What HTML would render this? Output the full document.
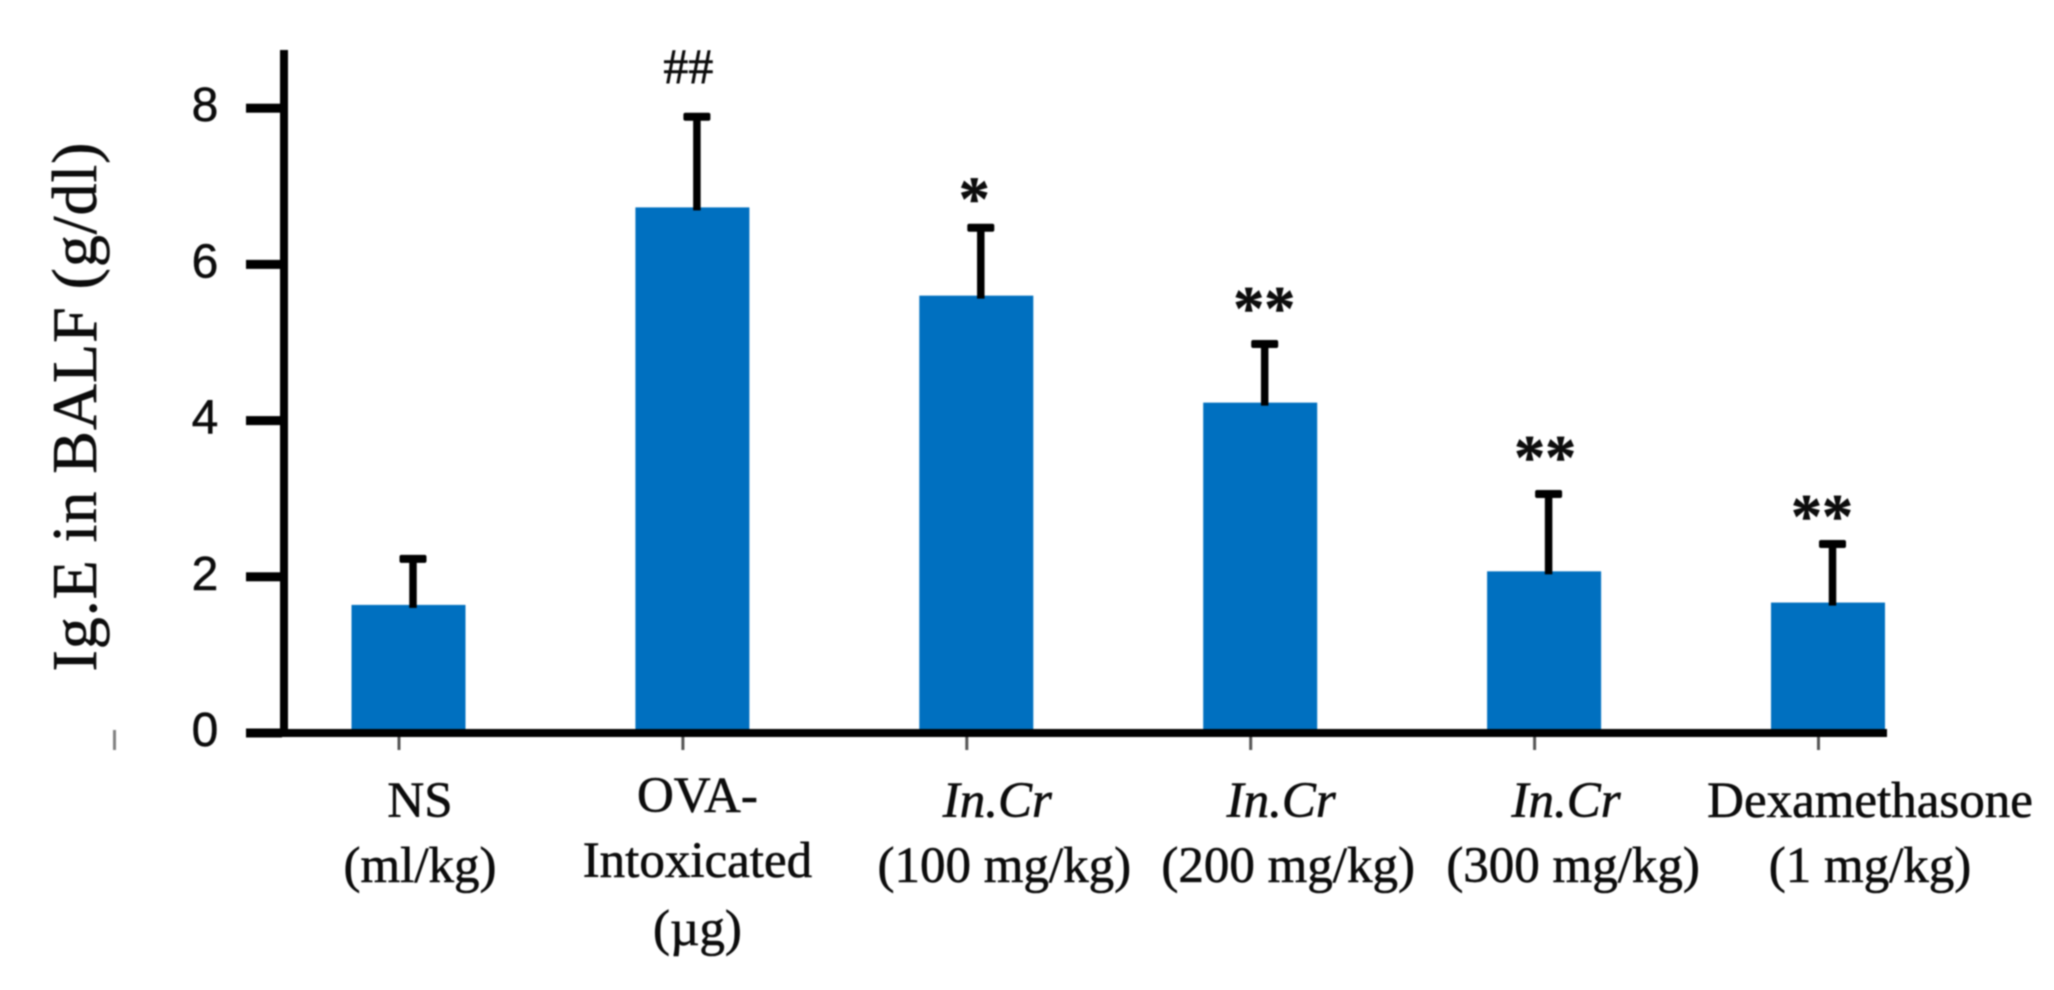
<!DOCTYPE html>
<html lang="en">
<head>
<meta charset="utf-8">
<title>IgE in BALF bar chart</title>
<style>
  html, body { margin: 0; padding: 0; background: #ffffff; width: 2054px; height: 990px; overflow: hidden; }
  svg { display: block; filter: blur(0.7px); }
  .serif { font-family: "Liberation Serif", serif; fill: #0c0c0c; stroke: #0c0c0c; stroke-width: 0.6px; }
  .sans { font-family: "Liberation Sans", sans-serif; fill: #0c0c0c; stroke: #0c0c0c; stroke-width: 0.5px; }
</style>
</head>
<body>
<svg id="chart" xmlns="http://www.w3.org/2000/svg" width="2054" height="990" viewBox="0 0 2054 990">
  <rect x="0" y="0" width="2054" height="990" fill="#ffffff"/>
  <text class="serif" font-size="64" text-anchor="middle" textLength="529" lengthAdjust="spacing" transform="translate(96 407) rotate(-90)">Ig.E in BALF (g/dl)</text>
  <rect x="113" y="730" width="3" height="20" fill="#808080"/>
  <g id="bars"></g>
  <g id="errors"></g>
  <g id="annotations"></g>
  <rect x="280" y="50" width="8" height="687" fill="#000000"/>
  <rect x="246" y="729" width="1641" height="8" fill="#000000"/>
  <g id="y-ticks"></g>
  <g id="x-ticks"></g>
  <g id="x-labels"></g>
</svg>
<script>
const categoryLines = [
  ["NS", "(ml/kg)"],
  ["OVA-", "Intoxicated", "(µg)"],
  ["In.Cr", "(100 mg/kg)"],
  ["In.Cr", "(200 mg/kg)"],
  ["In.Cr", "(300 mg/kg)"],
  ["Dexamethasone", "(1 mg/kg)"]
];
const meanValues = [1.64, 6.73, 5.60, 4.23, 2.07, 1.67];
const errorTops = [2.23, 7.89, 6.47, 4.98, 3.06, 2.42];
const significance = ["", "##", "*", "**", "**", "**"];
const yTickValues = [0, 2, 4, 6, 8];

const svgNS = "http://www.w3.org/2000/svg";
function yScale(v) { return 733 - 78.1 * v; }
function xCenter(i) { return 408.5 + 283.9 * i; }
const barWidth = 114;
const errorOffset = 4.5;
const xTickOffset = -9.5;
const firstLineShift = [11.5, 5, 21, 21, 22, 42];
const otherLineShift = [11.5, 5, 28, 28, 29, 42];
const annotationShift = [0, -4, -2, 4, 1, -6];
const annotationGap = [0, 34, 25, 32, 33, 24];
const twoLineBaselines = [817, 882];
const threeLineBaselines = [812, 877, 945];

function make(tag, attrs, parent, text) {
  const node = document.createElementNS(svgNS, tag);
  for (const k in attrs) node.setAttribute(k, attrs[k]);
  if (text !== undefined) node.textContent = text;
  parent.appendChild(node);
  return node;
}

const barsG = document.getElementById("bars");
const errorsG = document.getElementById("errors");
const annG = document.getElementById("annotations");
const yTicksG = document.getElementById("y-ticks");
const xTicksG = document.getElementById("x-ticks");
const xLabelsG = document.getElementById("x-labels");

meanValues.forEach(function (v, i) {
  const cx = xCenter(i);
  const top = yScale(v);
  const bar = make("rect", { x: cx - barWidth / 2, y: top, width: barWidth, height: yScale(0) - top, fill: "#0070c0" }, barsG);
  
  

  const ex = cx + errorOffset;
  const eTop = yScale(errorTops[i]);
  const stem = make("rect", { x: ex - 3.75, y: eTop, width: 7.5, height: top - eTop + 3, fill: "#000000" }, errorsG);
  
  
  const cap = make("rect", { x: ex - 13.5, y: eTop - 4, width: 27, height: 8, rx: 2, fill: "#000000" }, errorsG);
  
  

  const mark = significance[i];
  if (mark) {
    const isHash = mark.charAt(0) === "#";
    const baseline = eTop - annotationGap[i] + (isHash ? 0 : 17);
    const ann = make("text", {
      x: cx + annotationShift[i],
      y: baseline,
      "text-anchor": "middle",
      "font-size": isHash ? 50 : 62,
      "font-weight": isHash ? "normal" : "bold",
      class: "serif"
    }, annG, mark);
    
    
  }

  const tick = make("rect", { x: cx + xTickOffset - 1.5, y: 737, width: 3, height: 13, fill: "#555555" }, xTicksG);
  
  

  const baselines = categoryLines[i].length === 3 ? threeLineBaselines : twoLineBaselines;
  categoryLines[i].forEach(function (line, j) {
    const shift = j === 0 ? firstLineShift[i] : otherLineShift[i];
    const italic = line === "In.Cr";
    const label = make("text", {
      x: cx + shift,
      y: baselines[j],
      "text-anchor": "middle",
      "font-size": 51,
      "font-style": italic ? "italic" : "normal",
      class: "serif"
    }, xLabelsG, line);
    
    
  });
});

yTickValues.forEach(function (v) {
  const y = yScale(v);
  const tick = make("rect", { x: 246, y: y - 4.5, width: 36, height: 9, fill: "#000000" }, yTicksG);
  
  
  const label = make("text", { x: 205, y: y + 13, "text-anchor": "middle", "font-size": 48, class: "sans" }, yTicksG, String(v));
  
  
});
</script>
</body>
</html>
